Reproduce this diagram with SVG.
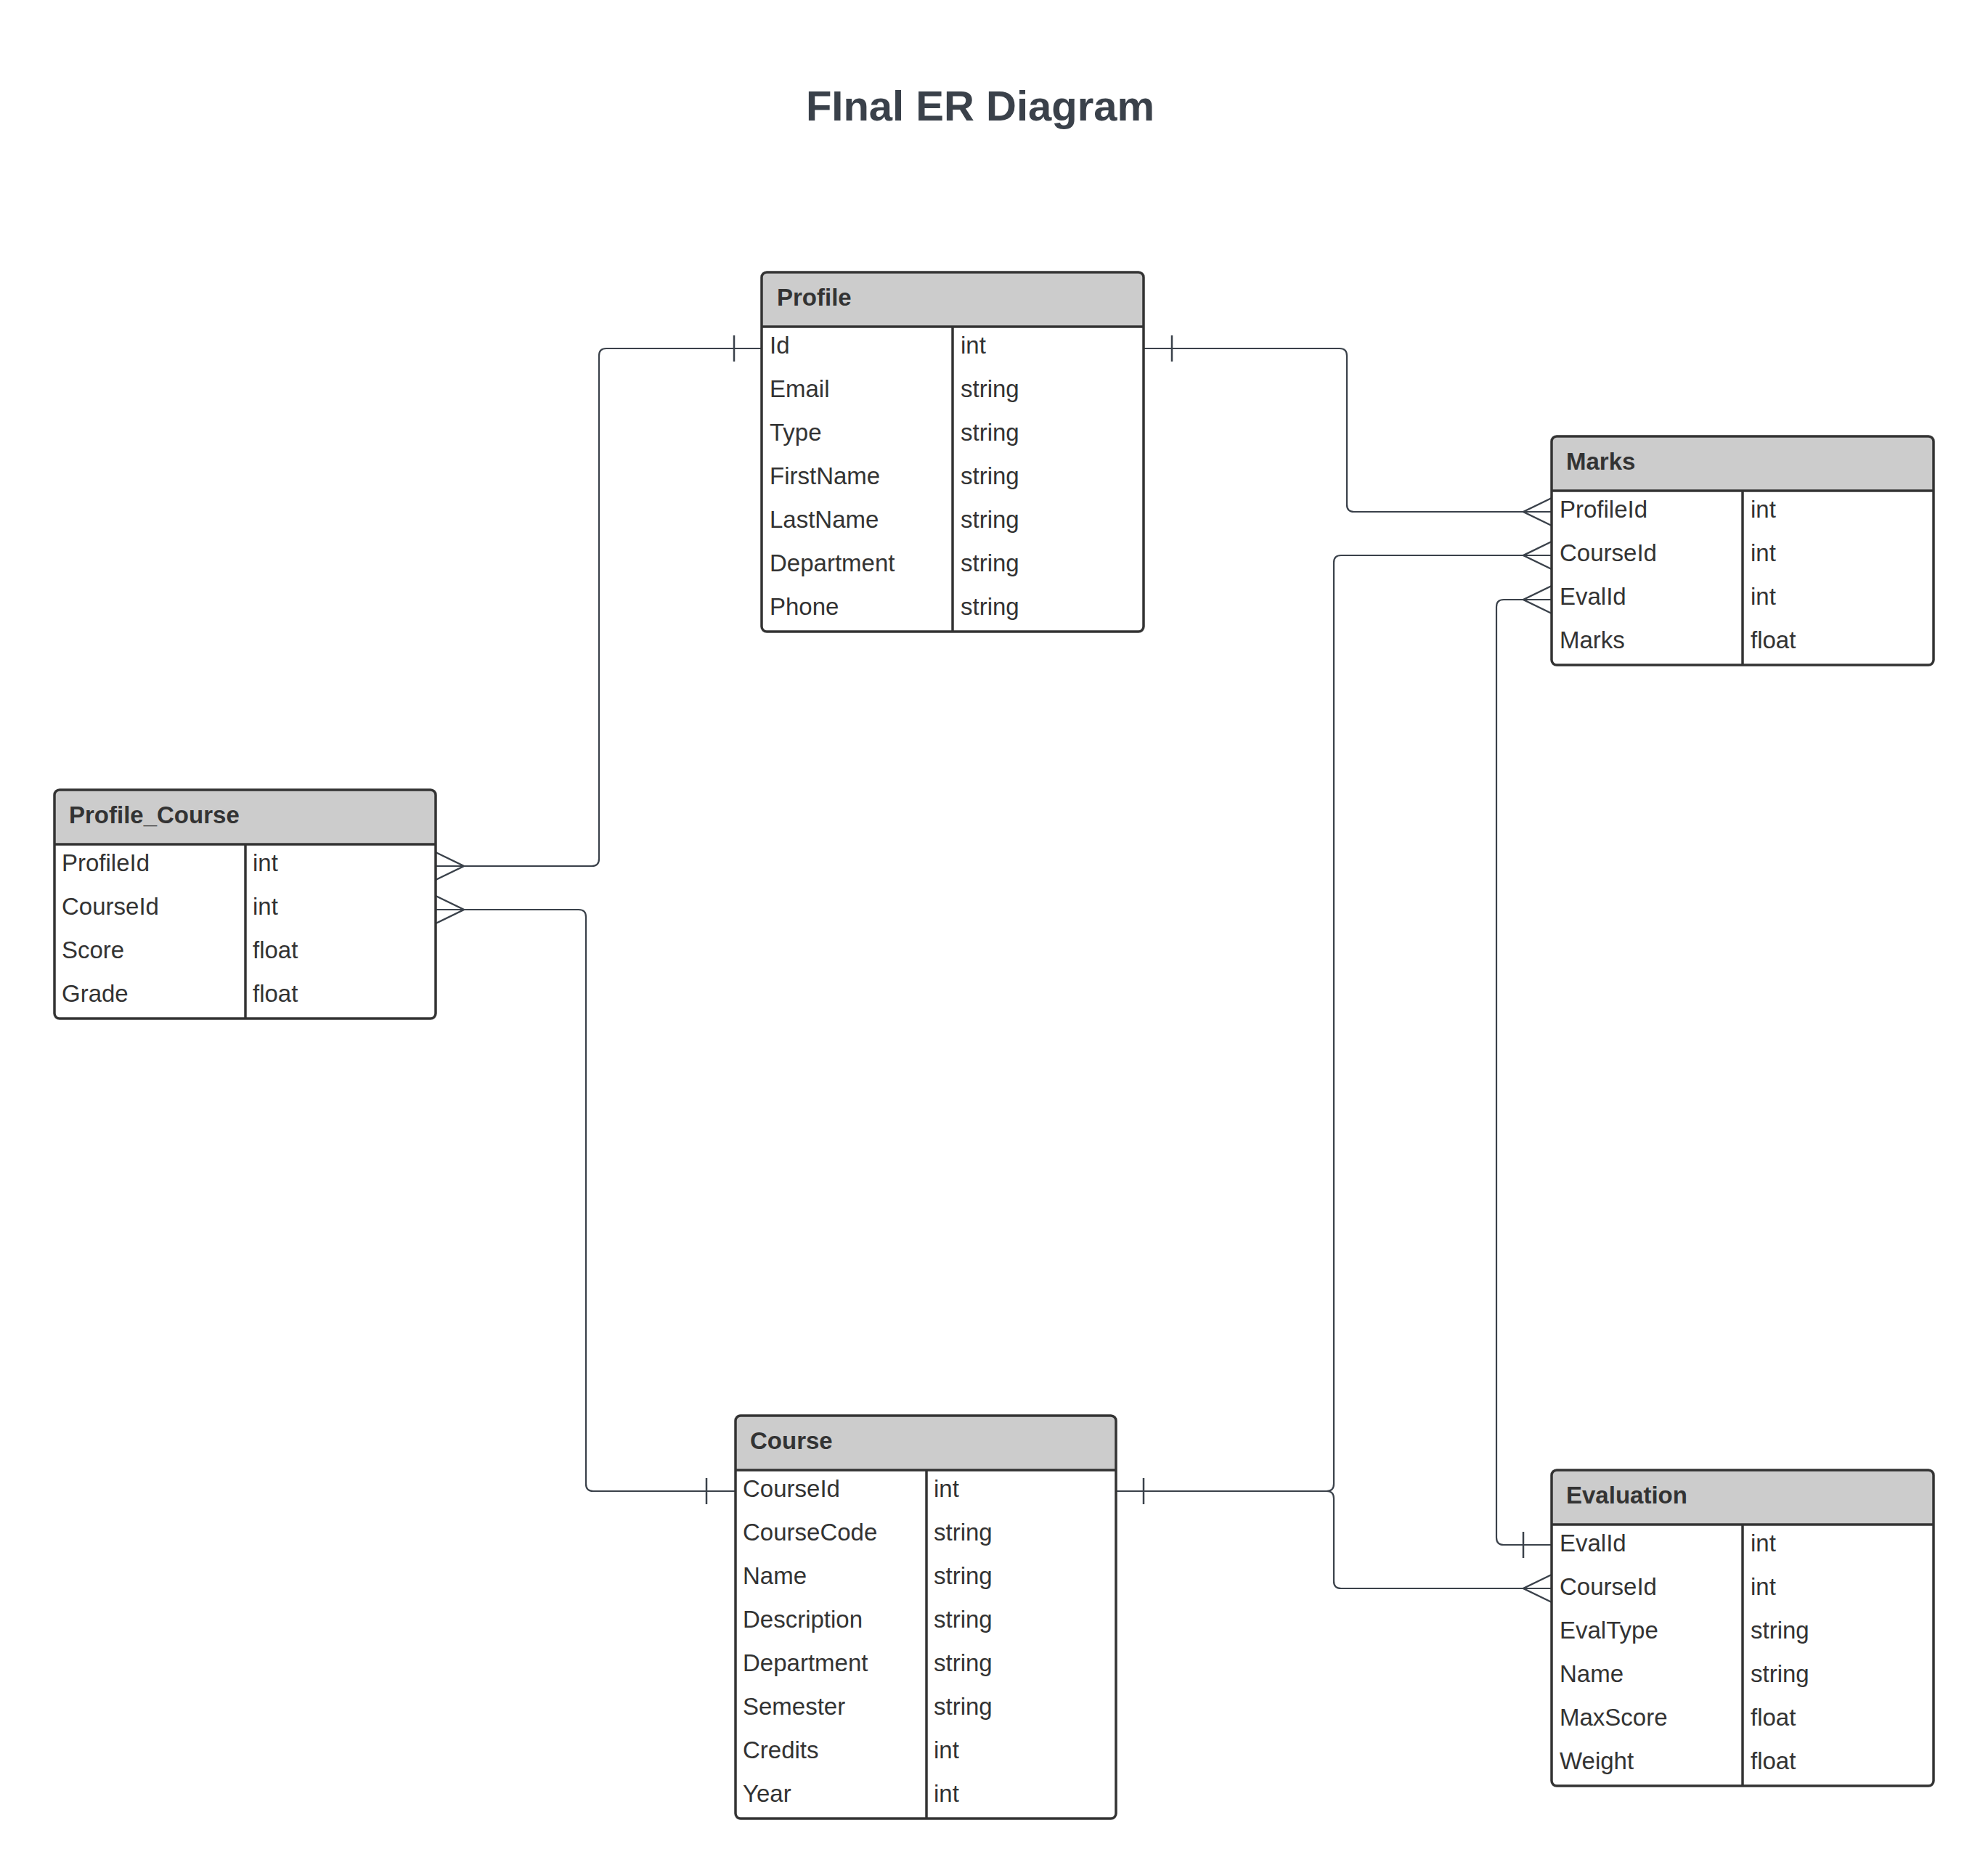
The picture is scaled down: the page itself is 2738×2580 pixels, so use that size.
<svg xmlns="http://www.w3.org/2000/svg" width="2738" height="2580" viewBox="0 0 2738 2580">
<style>
.bg{fill:#ffffff}
.title{font-family:"Liberation Sans",Arial,sans-serif;font-weight:bold;font-size:58px;fill:#3a414a}
.frame{fill:none;stroke:#333333;stroke-width:3.5}
.body{fill:#ffffff}
.head{fill:#cccccc}
.sep{stroke:#333333;stroke-width:3.5}
.hdr{font-family:"Liberation Sans",Arial,sans-serif;font-weight:bold;font-size:33px;fill:#333333}
.cell{font-family:"Liberation Sans",Arial,sans-serif;font-size:33px;fill:#333333}
.conn{fill:none;stroke:#3a414a;stroke-width:2.2;stroke-linejoin:round}
.mark{fill:none;stroke:#3a414a;stroke-width:2.5}
</style>
<rect class="bg" x="0" y="0" width="2738" height="2580"/>
<text class="title" x="1350" y="166" text-anchor="middle">FInal ER Diagram</text>

<g id="connectors">
  <!-- Profile.Id -> Profile_Course.ProfileId -->
  <path class="conn" d="M1049,480 H835 Q825,480 825,490 V1183 Q825,1193 815,1193 H600"/>
  <path class="mark" d="M1011,462 V498"/>
  <path class="mark" d="M600,1174 L639,1193 L600,1212"/>
  <!-- Profile.Id -> Marks.ProfileId -->
  <path class="conn" d="M1575,480 H1845 Q1855,480 1855,490 V695 Q1855,705 1865,705 H2137"/>
  <path class="mark" d="M1614,462 V498"/>
  <path class="mark" d="M2137,686 L2098,705 L2137,724"/>
  <!-- Course.CourseId -> Marks.CourseId -->
  <path class="conn" d="M2137,765 H1847 Q1837,765 1837,775 V2044 Q1837,2054 1827,2054 H1537"/>
  <path class="mark" d="M2137,746 L2098,765 L2137,784"/>
  <path class="mark" d="M1575,2036 V2072"/>
  <!-- Course.CourseId -> Evaluation.CourseId -->
  <path class="conn" d="M1537,2054 H1827 Q1837,2054 1837,2064 V2178 Q1837,2188 1847,2188 H2137"/>
  <path class="mark" d="M2137,2169 L2098,2188 L2137,2207"/>
  <!-- Evaluation.EvalId -> Marks.EvalId -->
  <path class="conn" d="M2137,826 H2071 Q2061,826 2061,836 V2118 Q2061,2128 2071,2128 H2137"/>
  <path class="mark" d="M2137,807 L2098,826 L2137,845"/>
  <path class="mark" d="M2098,2110 V2146"/>
  <!-- Course.CourseId -> Profile_Course.CourseId -->
  <path class="conn" d="M600,1253 H797 Q807,1253 807,1263 V2044 Q807,2054 817,2054 H1013"/>
  <path class="mark" d="M600,1234 L639,1253 L600,1272"/>
  <path class="mark" d="M973,2036 V2072"/>
</g>

<g id="profile">
  <rect class="body" x="1049" y="375" width="526" height="495" rx="7"/>
  <path class="head" d="M1049,450 V382 Q1049,375 1056,375 H1568 Q1575,375 1575,382 V450 Z"/>
  <line class="sep" x1="1049" y1="450" x2="1575" y2="450"/>
  <line class="sep" x1="1312" y1="450" x2="1312" y2="870"/>
  <rect class="frame" x="1049" y="375" width="526" height="495" rx="7"/>
  <text class="hdr" x="1070" y="421">Profile</text>
  <text class="cell" x="1060" y="487">Id</text><text class="cell" x="1323" y="487">int</text>
  <text class="cell" x="1060" y="547">Email</text><text class="cell" x="1323" y="547">string</text>
  <text class="cell" x="1060" y="607">Type</text><text class="cell" x="1323" y="607">string</text>
  <text class="cell" x="1060" y="667">FirstName</text><text class="cell" x="1323" y="667">string</text>
  <text class="cell" x="1060" y="727">LastName</text><text class="cell" x="1323" y="727">string</text>
  <text class="cell" x="1060" y="787">Department</text><text class="cell" x="1323" y="787">string</text>
  <text class="cell" x="1060" y="847">Phone</text><text class="cell" x="1323" y="847">string</text>
</g>

<g id="profile_course">
  <rect class="body" x="75" y="1088" width="525" height="315" rx="7"/>
  <path class="head" d="M75,1163 V1095 Q75,1088 82,1088 H593 Q600,1088 600,1095 V1163 Z"/>
  <line class="sep" x1="75" y1="1163" x2="600" y2="1163"/>
  <line class="sep" x1="338" y1="1163" x2="338" y2="1403"/>
  <rect class="frame" x="75" y="1088" width="525" height="315" rx="7"/>
  <text class="hdr" x="95" y="1134">Profile_Course</text>
  <text class="cell" x="85" y="1200">ProfileId</text><text class="cell" x="348" y="1200">int</text>
  <text class="cell" x="85" y="1260">CourseId</text><text class="cell" x="348" y="1260">int</text>
  <text class="cell" x="85" y="1320">Score</text><text class="cell" x="348" y="1320">float</text>
  <text class="cell" x="85" y="1380">Grade</text><text class="cell" x="348" y="1380">float</text>
</g>

<g id="marks">
  <rect class="body" x="2137" y="601" width="526" height="315" rx="7"/>
  <path class="head" d="M2137,676 V608 Q2137,601 2144,601 H2656 Q2663,601 2663,608 V676 Z"/>
  <line class="sep" x1="2137" y1="676" x2="2663" y2="676"/>
  <line class="sep" x1="2400" y1="676" x2="2400" y2="916"/>
  <rect class="frame" x="2137" y="601" width="526" height="315" rx="7"/>
  <text class="hdr" x="2157" y="647">Marks</text>
  <text class="cell" x="2148" y="713">ProfileId</text><text class="cell" x="2411" y="713">int</text>
  <text class="cell" x="2148" y="773">CourseId</text><text class="cell" x="2411" y="773">int</text>
  <text class="cell" x="2148" y="833">EvalId</text><text class="cell" x="2411" y="833">int</text>
  <text class="cell" x="2148" y="893">Marks</text><text class="cell" x="2411" y="893">float</text>
</g>

<g id="course">
  <rect class="body" x="1013" y="1950" width="524" height="555" rx="7"/>
  <path class="head" d="M1013,2025 V1957 Q1013,1950 1020,1950 H1530 Q1537,1950 1537,1957 V2025 Z"/>
  <line class="sep" x1="1013" y1="2025" x2="1537" y2="2025"/>
  <line class="sep" x1="1276" y1="2025" x2="1276" y2="2505"/>
  <rect class="frame" x="1013" y="1950" width="524" height="555" rx="7"/>
  <text class="hdr" x="1033" y="1996">Course</text>
  <text class="cell" x="1023" y="2062">CourseId</text><text class="cell" x="1286" y="2062">int</text>
  <text class="cell" x="1023" y="2122">CourseCode</text><text class="cell" x="1286" y="2122">string</text>
  <text class="cell" x="1023" y="2182">Name</text><text class="cell" x="1286" y="2182">string</text>
  <text class="cell" x="1023" y="2242">Description</text><text class="cell" x="1286" y="2242">string</text>
  <text class="cell" x="1023" y="2302">Department</text><text class="cell" x="1286" y="2302">string</text>
  <text class="cell" x="1023" y="2362">Semester</text><text class="cell" x="1286" y="2362">string</text>
  <text class="cell" x="1023" y="2422">Credits</text><text class="cell" x="1286" y="2422">int</text>
  <text class="cell" x="1023" y="2482">Year</text><text class="cell" x="1286" y="2482">int</text>
</g>

<g id="evaluation">
  <rect class="body" x="2137" y="2025" width="526" height="435" rx="7"/>
  <path class="head" d="M2137,2100 V2032 Q2137,2025 2144,2025 H2656 Q2663,2025 2663,2032 V2100 Z"/>
  <line class="sep" x1="2137" y1="2100" x2="2663" y2="2100"/>
  <line class="sep" x1="2400" y1="2100" x2="2400" y2="2460"/>
  <rect class="frame" x="2137" y="2025" width="526" height="435" rx="7"/>
  <text class="hdr" x="2157" y="2071">Evaluation</text>
  <text class="cell" x="2148" y="2137">EvalId</text><text class="cell" x="2411" y="2137">int</text>
  <text class="cell" x="2148" y="2197">CourseId</text><text class="cell" x="2411" y="2197">int</text>
  <text class="cell" x="2148" y="2257">EvalType</text><text class="cell" x="2411" y="2257">string</text>
  <text class="cell" x="2148" y="2317">Name</text><text class="cell" x="2411" y="2317">string</text>
  <text class="cell" x="2148" y="2377">MaxScore</text><text class="cell" x="2411" y="2377">float</text>
  <text class="cell" x="2148" y="2437">Weight</text><text class="cell" x="2411" y="2437">float</text>
</g>
</svg>
